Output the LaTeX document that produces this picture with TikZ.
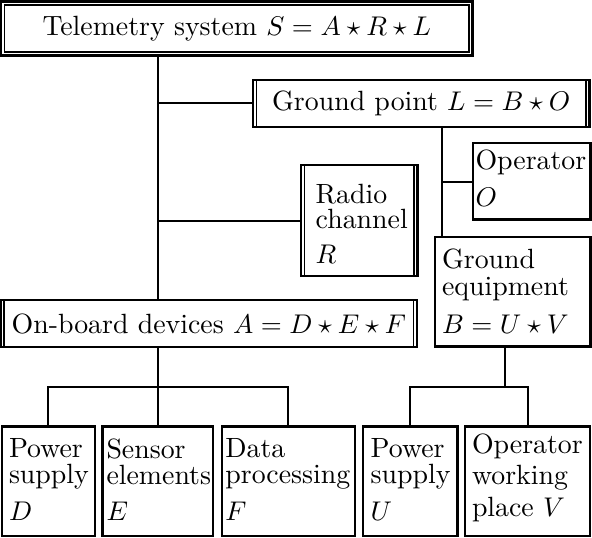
\documentclass[tikz,border=0pt]{standalone}
\usetikzlibrary{fit}
\begin{document}
\begin{tikzpicture}[x=0.37pt,y=-0.37pt,
  box/.style={draw, line width=0.78pt, rectangle, inner sep=0pt, outer sep=0pt,
    font=\fontsize{10.3}{9.6}\selectfont},
  txt/.style={align=left, inner sep=0pt, outer sep=0pt, anchor=north west,
    font=\fontsize{10.3}{9.6}\selectfont},
  conn/.style={line width=0.78pt},
  innerline/.style={line width=0.6pt}]
\useasboundingbox (0,0) rectangle (592,538);

% boxes
\node[box, minimum width=471.5*0.37pt, minimum height=54*0.37pt] (S) at (236.75,28.5) {Telemetry system $S=A\star R\star L$};
\node[box, minimum width=336.5*0.37pt, minimum height=46.5*0.37pt] (GP) at (421.25,103.55) {Ground point $L=B\star O$};
\node[box, fit={(472.7,143.3) (590.5,219.5)}] (O) {};
\node[box, fit={(301,164.7) (417.5,275.8)}] (R) {};
\node[box, fit={(435,237) (590.5,346.5)}] (GE) {};
\node[box, minimum width=416.2*0.37pt, minimum height=46.7*0.37pt] (A) at (208.9,323.65) {On-board devices $A=D\star E\star F$};
\node[box, fit={(1.7,426.5) (95,536.3)}] (D) {};
\node[box, fit={(102.5,426.5) (213,536.3)}] (E) {};
\node[box, fit={(221.7,426.5) (355,536.3)}] (F) {};
\node[box, fit={(363,426.5) (457.5,536.3)}] (U) {};
\node[box, fit={(465.3,426.5) (590,536.3)}] (V) {};

% double borders
\draw[innerline] ([shift={(3.6,3.8)}]S.north west) rectangle ([shift={(-3.6,-3.6)}]S.south east);
\foreach \n in {GP,R,A}{
  \draw[innerline] ([xshift=3.5*0.37pt]\n.north west) -- ([xshift=3.5*0.37pt]\n.south west);
  \draw[innerline] ([xshift=-3.5*0.37pt]\n.north east) -- ([xshift=-3.5*0.37pt]\n.south east);
}

% texts
\node[txt] (tO) at ([shift={(2.8,6.7)}]O.north west) {Operator\\[4.1pt]$O$};
\node[txt] (tR) at ([shift={(14.7,19)}]R.north west) {Radio\\channel\\[3pt]$R$};
\node[txt] (tGE) at ([shift={(7,12)}]GE.north west) {Ground\\[0.4pt]equipment\\[4.4pt]$B=U\star V$};
\node[txt] (tD) at ([shift={(7.3,12)}]D.north west) {Power\\supply\\[4pt]$D$};
\node[txt] (tE) at ([shift={(4,12)}]E.north west) {Sensor\\elements\\[4pt]$E$};
\node[txt] (tF) at ([shift={(3.7,12)}]F.north west) {Data\\processing\\[4pt]$F$};
\node[txt] (tU) at ([shift={(7.7,12)}]U.north west) {Power\\supply\\[4pt]$U$};
\node[txt] (tV) at ([shift={(6.7,7.5)}]V.north west) {Operator\\[2pt]working\\[2pt]place $V$};

% junctions
\coordinate (jGP) at (157.75,103);
\coordinate (jR) at (157.75,221);
\coordinate (jO) at (442,182);
\coordinate (busA) at (157.75,387);
\coordinate (busB) at (505,387);

% connectors
\draw[conn] (S.south -| jGP) -- (A.north -| jGP);
\draw[conn] (jGP) -- (GP.west |- jGP);
\draw[conn] (jR) -- (R.west |- jR);
\draw[conn] (GP.south -| jO) -- (GE.north -| jO);
\draw[conn] (jO) -- (O.west |- jO);
\draw[conn] (A.south -| busA) -- (E.north);
\draw[conn] (D.north) |- (busA) -| (F.north);
\draw[conn] (GE.south -| busB) -- (busB);
\draw[conn] (U.north) |- (busB) -| (V.north);
\end{tikzpicture}
\end{document}
